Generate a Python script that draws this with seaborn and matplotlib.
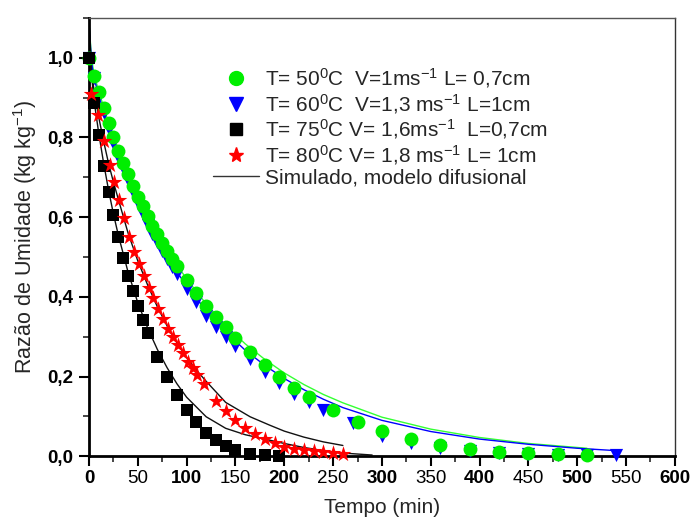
import numpy as np
import pandas as pd
import matplotlib
matplotlib.use("Agg")
import matplotlib.pyplot as plt
from matplotlib.lines import Line2D
from matplotlib.ticker import MultipleLocator
import seaborn as sns

# Experimental drying data (time in min, moisture ratio)
t50 = [0, 5, 10, 15, 20, 25, 30, 35, 40, 45, 50, 55, 60, 65, 70, 75, 80, 85, 90,
       100, 110, 120, 130, 140, 150, 165, 180, 195, 210, 225, 250, 275, 300,
       330, 360, 390, 420, 450, 480, 510]
mr50 = [1.00, 0.955, 0.914, 0.875, 0.836, 0.800, 0.767, 0.737, 0.708, 0.679, 0.651,
        0.628, 0.603, 0.578, 0.557, 0.536, 0.515, 0.495, 0.478,
        0.443, 0.409, 0.377, 0.349, 0.324, 0.296, 0.261, 0.228, 0.199, 0.171, 0.148,
        0.115, 0.085, 0.063, 0.042, 0.027, 0.017, 0.011, 0.007, 0.005, 0.003]

t60 = [0, 5, 10, 15, 20, 25, 30, 35, 40, 45, 50, 55, 60, 65, 70, 75, 80, 85, 90,
       100, 110, 120, 130, 140, 150, 165, 180, 195, 210, 225, 240, 270, 300,
       330, 360, 390, 420, 450, 480, 510, 540]
mr60 = [1.00, 0.950, 0.905, 0.862, 0.822, 0.786, 0.752, 0.722, 0.692, 0.664, 0.636,
        0.608, 0.580, 0.558, 0.537, 0.515, 0.494, 0.474, 0.456,
        0.420, 0.386, 0.353, 0.324, 0.299, 0.276, 0.243, 0.211, 0.183, 0.157, 0.135,
        0.117, 0.084, 0.052, 0.032, 0.021, 0.013, 0.009, 0.006, 0.004, 0.003, 0.002]

t75 = [0, 5, 10, 15, 20, 25, 30, 35, 40, 45, 50, 55, 60, 70, 80, 90, 100, 110,
       120, 130, 140, 150, 165, 180, 195]
mr75 = [1.00, 0.886, 0.807, 0.729, 0.662, 0.605, 0.549, 0.497, 0.453, 0.415, 0.377,
        0.343, 0.308, 0.250, 0.198, 0.153, 0.115, 0.085, 0.059, 0.040, 0.025, 0.015,
        0.006, 0.003, 0.001]

t80 = [2, 9, 15, 21, 26, 31, 36, 41, 46, 51, 56, 61, 66, 71, 76, 81, 86, 91, 96,
       101, 106, 111, 118, 130, 140, 150, 160, 170, 180, 190, 200, 210, 220, 230,
       240, 250, 260]
mr80 = [0.909, 0.855, 0.790, 0.730, 0.689, 0.643, 0.597, 0.549, 0.513, 0.482, 0.452,
        0.423, 0.396, 0.369, 0.344, 0.319, 0.298, 0.279, 0.258, 0.237, 0.222, 0.204,
        0.180, 0.139, 0.113, 0.090, 0.071, 0.055, 0.044, 0.032, 0.023, 0.019, 0.015,
        0.013, 0.010, 0.008, 0.006]

# Diffusion model curves
ts50 = [0, 2.5, 5, 10, 20, 30, 40, 50, 60, 70, 80, 90, 100, 120, 140, 160, 180,
        200, 220, 240, 260, 300, 350, 400, 450, 510]
ms50 = [1.09, 1.00, 0.960, 0.915, 0.838, 0.770, 0.710, 0.655, 0.605, 0.560, 0.518,
        0.480, 0.445, 0.382, 0.328, 0.282, 0.243, 0.209, 0.180, 0.155, 0.134, 0.098,
        0.068, 0.047, 0.032, 0.020]

ts60 = [0, 2.5, 5, 10, 20, 30, 40, 50, 60, 70, 80, 90, 100, 120, 140, 160, 180,
        200, 220, 240, 260, 300, 350, 400, 450, 500, 540]
ms60 = [1.09, 0.99, 0.950, 0.905, 0.823, 0.752, 0.690, 0.635, 0.585, 0.540, 0.500,
        0.462, 0.428, 0.365, 0.312, 0.266, 0.228, 0.195, 0.167, 0.143, 0.122, 0.090,
        0.062, 0.043, 0.030, 0.020, 0.014]

ts75 = [0, 2.5, 5, 10, 15, 20, 25, 30, 40, 50, 60, 70, 80, 90, 100, 120, 140, 160,
        180, 200, 220, 240, 260, 290]
ms75 = [1.09, 0.96, 0.895, 0.810, 0.735, 0.668, 0.608, 0.555, 0.462, 0.385, 0.322,
        0.268, 0.222, 0.182, 0.148, 0.099, 0.070, 0.054, 0.043, 0.032, 0.022, 0.014,
        0.008, 0.003]

ts80 = [0, 2.5, 5, 10, 15, 20, 25, 30, 40, 50, 60, 70, 80, 90, 100, 110, 120, 140,
        165, 185, 200, 220, 240, 260]
ms80 = [1.09, 0.97, 0.920, 0.850, 0.790, 0.735, 0.688, 0.645, 0.560, 0.490, 0.430,
        0.375, 0.327, 0.285, 0.248, 0.216, 0.188, 0.135, 0.099, 0.078, 0.063, 0.048,
        0.036, 0.027]

labels = [
    r"T= 50$^{0}$C  V=1ms$^{-1}$ L= 0,7cm",
    r"T= 60$^{0}$C  V=1,3 ms$^{-1}$ L=1cm",
    r"T= 75$^{0}$C V= 1,6ms$^{-1}$  L=0,7cm",
    r"T= 80$^{0}$C V= 1,8 ms$^{-1}$ L= 1cm",
    "Simulado, modelo difusional",
]

sns.set_style("ticks")
plt.rcParams["font.family"] = ["Liberation Sans", "DejaVu Sans"]
plt.rcParams["mathtext.fontset"] = "custom"
plt.rcParams["mathtext.rm"] = "Liberation Sans"
plt.rcParams["mathtext.it"] = "Liberation Sans:italic"
plt.rcParams["mathtext.bf"] = "Liberation Sans:bold"

fig = plt.figure(figsize=(6.9, 5.25), dpi=100)
ax = fig.add_axes([0.129, 0.131, 0.849, 0.835])

GREEN = "#00ee00"
BLUE = "#0000ff"
RED = "#ff0000"
BLACK = "#000000"

# model curves
for tt, mm, col in [(ts50, ms50, "#33ff33"), (ts60, ms60, BLUE),
                    (ts75, ms75, "#111111"), (ts80, ms80, "#111111")]:
    sns.lineplot(data=pd.DataFrame({"t": tt, "mr": mm}), x="t", y="mr", ax=ax,
                 color=col, lw=1.0, sort=False, estimator=None, zorder=2)

# experimental points
series = [
    (t60, mr60, BLUE, "v", 90),
    (t50, mr50, GREEN, "o", 100),
    (t75, mr75, BLACK, "s", 70),
    (t80, mr80, RED, "*", 140),
]
for tt, mm, col, mk, sz in series:
    sns.scatterplot(data=pd.DataFrame({"t": tt, "mr": mm}), x="t", y="mr", ax=ax,
                    color=col, marker=mk, s=sz, linewidth=0, zorder=3,
                    clip_on=False)

ax.set_xlim(0, 600)
ax.set_ylim(0, 1.1)
ax.xaxis.set_minor_locator(MultipleLocator(25))
ax.yaxis.set_minor_locator(MultipleLocator(0.1))

xt = np.arange(0, 601, 50)
ax.set_xticks(xt)
ax.set_xticklabels([str(v) for v in xt])
for v, lab in zip(xt, ax.get_xticklabels()):
    lab.set_fontweight("bold" if v % 100 == 0 else "normal")
yt = np.arange(0, 1.01, 0.2)
ax.set_yticks(yt)
ax.set_yticklabels([f"{v:.1f}".replace(".", ",") for v in yt], fontweight="bold")
ax.tick_params(axis="both", which="major", direction="out", length=7, width=1.5,
               labelsize=13.5, colors="black")
ax.tick_params(axis="both", which="minor", direction="out", length=4, width=1.2)
ax.tick_params(axis="x", which="major", pad=3)
ax.tick_params(axis="y", which="major", pad=4)

for side in ["left", "bottom"]:
    ax.spines[side].set_linewidth(2.0)
    ax.spines[side].set_color("black")
ax.spines["top"].set_linewidth(1.0)
ax.spines["top"].set_color("#555555")
ax.spines["right"].set_linewidth(1.0)
ax.spines["right"].set_color("#333333")

ax.set_xlabel("Tempo (min)", fontsize=15, labelpad=8)
ax.set_ylabel(r"Razão de Umidade (kg kg$^{-1}$)", fontsize=15.5, labelpad=6)

handles = [
    Line2D([], [], ls="none", marker="o", color=GREEN, markersize=10),
    Line2D([], [], ls="none", marker="v", color=BLUE, markersize=10),
    Line2D([], [], ls="none", marker="s", color=BLACK, markersize=8),
    Line2D([], [], ls="none", marker="*", color=RED, markersize=11),
    Line2D([], [], color="#333333", lw=1.0),
]
leg = ax.legend(handles, labels, loc="upper left", bbox_to_anchor=(0.2116, 0.89),
                frameon=False, fontsize=15, labelspacing=0.08, handlelength=2.2,
                handletextpad=0.3, borderpad=0, borderaxespad=0)

fig.savefig("out.png", dpi=100, facecolor="white")
